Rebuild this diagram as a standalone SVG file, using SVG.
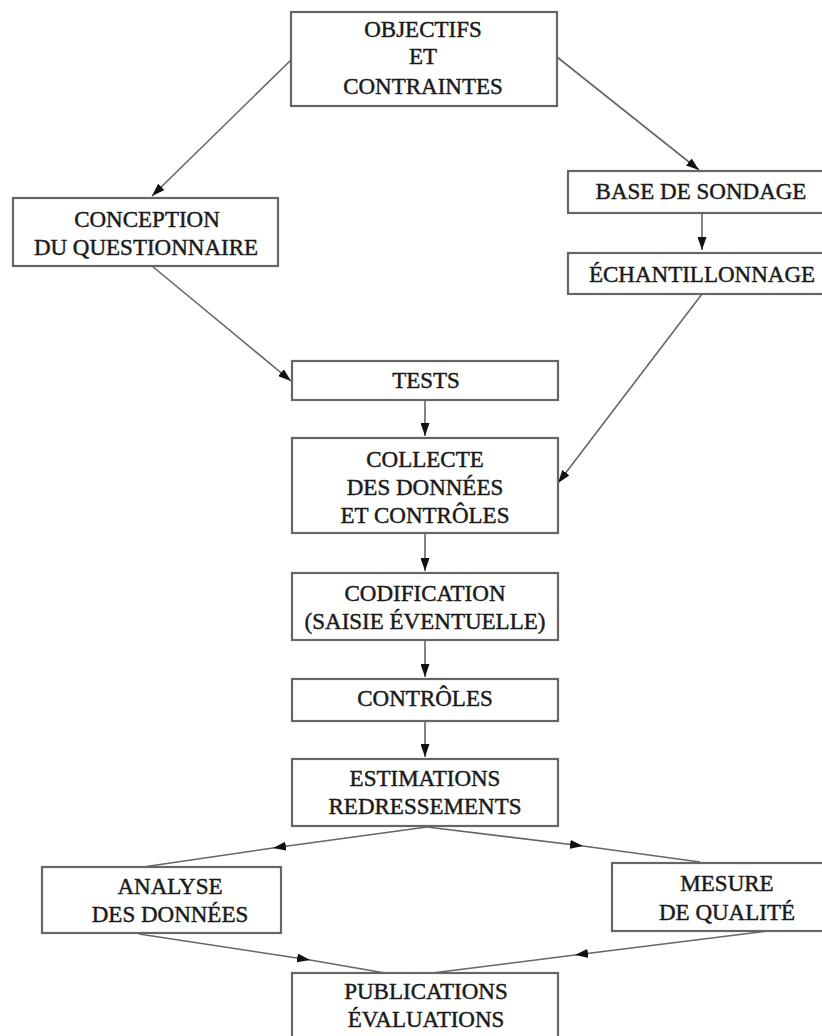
<svg xmlns="http://www.w3.org/2000/svg" width="822" height="1036" viewBox="0 0 822 1036">
<style>
.box{fill:#fff;stroke:#666;stroke-width:2.2}
.lbl{font-family:"Liberation Serif","Times New Roman",serif;font-size:23px;fill:#1a1a1a;stroke:#1a1a1a;stroke-width:0.45;text-anchor:middle}
.cn{fill:none;stroke:#666;stroke-width:1.6}
</style>
<defs>
<marker id="ah" viewBox="0 0 13 9" refX="13" refY="4.5" markerWidth="13" markerHeight="9" markerUnits="userSpaceOnUse" orient="auto">
<path d="M0,0 L13,4.5 L0,9 z" fill="#111"/>
</marker>
</defs>
<rect width="822" height="1036" fill="#fff"/>
<g id="connectors">
<path class="cn" d="M291,60 L152,196" marker-end="url(#ah)"/>
<path class="cn" d="M557,57 L699,170" marker-end="url(#ah)"/>
<path class="cn" d="M702,213 L702,250" marker-end="url(#ah)"/>
<path class="cn" d="M152,266 L291,381" marker-end="url(#ah)"/>
<path class="cn" d="M702,294 L558,483" marker-end="url(#ah)"/>
<path class="cn" d="M425,400 L425,436" marker-end="url(#ah)"/>
<path class="cn" d="M425,533 L425,571" marker-end="url(#ah)"/>
<path class="cn" d="M425,640 L425,677" marker-end="url(#ah)"/>
<path class="cn" d="M425,721 L425,757" marker-end="url(#ah)"/>
<path class="cn" d="M427,827 L273,848 L143,867" marker-mid="url(#ah)"/>
<path class="cn" d="M427,827 L583,846 L700,862" marker-mid="url(#ah)"/>
<path class="cn" d="M139,934 L310,960 L385,973" marker-mid="url(#ah)"/>
<path class="cn" d="M768,931 L575,955 L432,973" marker-mid="url(#ah)"/>
</g>
<g id="objectifs"><rect class="box" x="291" y="12" width="266" height="94"/>
<text class="lbl" x="423" y="37">OBJECTIFS</text><text class="lbl" x="423" y="64">ET</text><text class="lbl" x="423" y="94">CONTRAINTES</text></g>
<g id="conception"><rect class="box" x="13" y="198" width="265" height="68"/>
<text class="lbl" x="147" y="227">CONCEPTION</text><text class="lbl" x="146" y="255">DU QUESTIONNAIRE</text></g>
<g id="base"><rect class="box" x="568" y="171" width="262" height="42"/>
<text class="lbl" x="701" y="199">BASE DE SONDAGE</text></g>
<g id="echantillonnage"><rect class="box" x="568" y="253" width="262" height="41"/>
<text class="lbl" x="702" y="282">ÉCHANTILLONNAGE</text></g>
<g id="tests"><rect class="box" x="292" y="361" width="266" height="39"/>
<text class="lbl" x="426" y="388">TESTS</text></g>
<g id="collecte"><rect class="box" x="292" y="438" width="266" height="95"/>
<text class="lbl" x="425" y="467">COLLECTE</text><text class="lbl" x="425" y="495">DES DONNÉES</text><text class="lbl" x="425" y="523">ET CONTRÔLES</text></g>
<g id="codification"><rect class="box" x="292" y="573" width="266" height="67"/>
<text class="lbl" x="425" y="601">CODIFICATION</text><text class="lbl" x="425" y="629">(SAISIE ÉVENTUELLE)</text></g>
<g id="controles"><rect class="box" x="292" y="679" width="266" height="42"/>
<text class="lbl" x="425" y="706">CONTRÔLES</text></g>
<g id="estimations"><rect class="box" x="292" y="759" width="266" height="67"/>
<text class="lbl" x="425" y="786">ESTIMATIONS</text><text class="lbl" x="425" y="814">REDRESSEMENTS</text></g>
<g id="analyse"><rect class="box" x="42" y="867" width="239" height="66"/>
<text class="lbl" x="170" y="894">ANALYSE</text><text class="lbl" x="170" y="922">DES DONNÉES</text></g>
<g id="mesure"><rect class="box" x="612" y="863" width="215" height="68"/>
<text class="lbl" x="727" y="891">MESURE</text><text class="lbl" x="727" y="920">DE QUALITÉ</text></g>
<g id="publications"><rect class="box" x="292" y="973" width="266" height="70"/>
<text class="lbl" x="426" y="999">PUBLICATIONS</text><text class="lbl" x="426" y="1027">ÉVALUATIONS</text></g>
</svg>
